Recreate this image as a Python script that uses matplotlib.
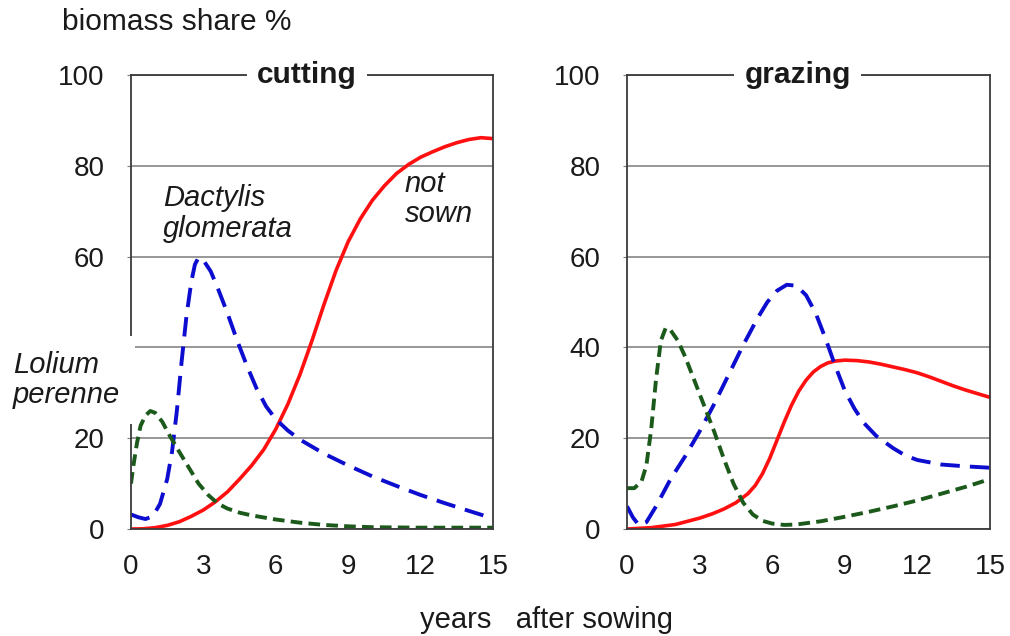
import matplotlib
matplotlib.use('Agg')
import matplotlib.pyplot as plt

plt.rcParams['font.family'] = ['Liberation Sans', 'DejaVu Sans']

# cutting panel
cut_red_x = [0, 0.5, 1, 1.5, 2, 2.5, 3, 3.5, 4, 4.5, 5, 5.5, 6, 6.5, 7, 7.5, 8, 8.5, 9, 9.5, 10, 10.5, 11, 11.5, 12, 12.5, 13, 13.5, 14, 14.5, 15]
cut_red_y = [0, 0.05, 0.3, 0.8, 1.6, 2.8, 4.2, 6, 8.2, 11, 14, 17.5, 22, 27.5, 34, 41.5, 49.5, 57, 63.3, 68.3, 72.4, 75.6, 78.3, 80.3, 81.9, 83.1, 84.2, 85.1, 85.8, 86.2, 86]
cut_blue_x = [0, 0.3, 0.6, 0.9, 1.2, 1.5, 1.7, 1.9, 2.1, 2.3, 2.5, 2.65, 2.8, 3.0, 3.3, 3.6, 4.0, 4.4, 4.8, 5.2, 5.6, 6.0, 6.5, 7.0, 8.0, 9.0, 10.0, 11.0, 12.0, 13.0, 14.0, 14.6]
cut_blue_y = [3.2, 2.6, 2.2, 2.8, 5.5, 11, 17, 26, 37, 47, 54.5, 58.3, 59.8, 59.2, 56.8, 53, 47.5, 41.5, 36, 31, 27, 24.2, 21.7, 19.7, 16.6, 14, 11.6, 9.5, 7.5, 5.7, 4, 3]
cut_green_x = [0, 0.1, 0.25, 0.4, 0.6, 0.8, 1.0, 1.3, 1.6, 2.0, 2.4, 2.8, 3.2, 3.6, 4.0, 4.5, 5, 6, 7, 8, 9, 10, 12, 15]
cut_green_y = [10, 14, 19, 22.8, 25, 26, 25.6, 23.6, 20.6, 17, 13.5, 10, 7.5, 5.6, 4.5, 3.6, 3, 2.1, 1.4, 0.9, 0.6, 0.4, 0.3, 0.3]

# grazing panel
gr_red_x = [0, 1, 2, 3, 3.5, 4, 4.5, 5, 5.3, 5.6, 5.9, 6.2, 6.5, 6.8, 7.1, 7.4, 7.7, 8, 8.3, 8.6, 9, 9.5, 10, 10.5, 11, 11.5, 12, 12.5, 13, 13.5, 14, 14.5, 15]
gr_red_y = [0, 0.3, 1, 2.4, 3.3, 4.4, 5.8, 7.8, 9.6, 12.2, 15.6, 19.6, 23.6, 27.3, 30.4, 32.8, 34.6, 35.8, 36.6, 37, 37.2, 37.1, 36.8, 36.3, 35.7, 35.1, 34.4, 33.5, 32.5, 31.5, 30.6, 29.8, 29]
gr_blue_x = [0, 0.25, 0.5, 0.8, 1.2, 1.8, 2.4, 3.0, 3.6, 4.2, 4.8, 5.4, 5.8, 6.2, 6.6, 7.0, 7.4, 7.8, 8.2, 8.6, 9.0, 9.4, 9.8, 10.3, 11, 11.5, 12, 13, 14, 15]
gr_blue_y = [5, 2.5, 0.8, 1.5, 5, 11, 16, 21.5, 27.5, 34, 40.5, 46.5, 50, 52.5, 53.8, 53.6, 51.5, 47.5, 42, 36, 30.5, 26.5, 23.3, 20.5, 17.8, 16.2, 15.2, 14.2, 13.8, 13.5]
gr_green_x = [0, 0.3, 0.6, 0.8, 1.0, 1.2, 1.4, 1.6, 1.8, 2.1, 2.4, 2.8, 3.2, 3.6, 4.0, 4.4, 4.8, 5.2, 5.6, 6.0, 6.5, 7, 8, 9, 10, 11, 12, 13, 14, 15]
gr_green_y = [9, 9, 10.5, 14, 22, 33, 41.5, 44.3, 43.8, 41.5, 38, 32.5, 27, 21.5, 15.5, 10, 5.8, 3.2, 1.8, 1.2, 0.9, 1, 1.7, 2.7, 3.8, 5, 6.3, 7.8, 9.3, 11]

xticks = [0, 3, 6, 9, 12, 15]
yticks = [0, 20, 40, 60, 80, 100]
ylabels_cut = ['0', '20', '', '60', '80', '100']  # 40 hidden behind the Lolium label
ylabels_gr = ['0', '20', '40', '60', '80', '100']

RED = '#ff1010'
BLUE = '#0d0dd0'
GREEN = '#1c5a1c'
TXT = '#1a1a1a'

fig = plt.figure(figsize=(10.1, 6.36), dpi=100)
ax1 = fig.add_axes([0.1297, 0.1682, 0.3584, 0.7138])
ax2 = fig.add_axes([0.6208, 0.1682, 0.3594, 0.7138])

panels = [
    (ax1, 'cutting', 0.486, ylabels_cut, cut_red_x, cut_red_y, cut_blue_x, cut_blue_y, cut_green_x, cut_green_y),
    (ax2, 'grazing', 0.47, ylabels_gr, gr_red_x, gr_red_y, gr_blue_x, gr_blue_y, gr_green_x, gr_green_y),
]

for ax, title, tx, ylab, rx, ry, bx, by, gx, gy in panels:
    ax.set_xlim(0, 15)
    ax.set_ylim(0, 100)
    ax.set_xticks(xticks)
    ax.set_yticks(yticks)
    ax.set_yticklabels(ylab)
    ax.grid(axis='y', color='#7a7a7a', linewidth=1.1)
    ax.set_axisbelow(True)
    for s in ax.spines.values():
        s.set_color('#3a3a3a')
        s.set_linewidth(1.3)
    ax.tick_params(axis='y', length=3, color='#7a7a7a', pad=16, labelsize=20, labelcolor=TXT)
    ax.tick_params(axis='x', length=0, pad=18, labelsize=20, labelcolor=TXT)
    ax.plot(rx, ry, color=RED, lw=2.6, solid_capstyle='round', solid_joinstyle='round')
    ax.plot(bx, by, color=BLUE, lw=2.8, dashes=(5, 2.6))
    ax.plot(gx, gy, color=GREEN, lw=2.8, dashes=(3, 1.6))
    ax.text(tx, 1.0, title, transform=ax.transAxes, ha='center', va='center',
            fontsize=21.5, fontweight='bold', color=TXT,
            bbox=dict(facecolor='white', edgecolor='none', boxstyle='square,pad=0.35'))

ax1.text(1.33, 69.5, 'Dactylis\nglomerata', style='italic', fontsize=21,
         ha='left', va='center', linespacing=1.1, color=TXT)
ax1.text(11.35, 72.7, 'not\nsown', style='italic', fontsize=21,
         ha='left', va='center', linespacing=1.1, color=TXT)

fig.text(13 / 1010, 1 - 380 / 636, 'Lolium\nperenne', style='italic', fontsize=21,
         ha='left', va='center', linespacing=1.1, color=TXT,
         bbox=dict(facecolor='white', edgecolor='none', boxstyle='square,pad=0.5'))

fig.text(62 / 1010, 1 - 22 / 636, 'biomass share %', fontsize=21.5, ha='left', va='center', color=TXT)
fig.text(546 / 1010, 1 - 620 / 636, 'years   after sowing', fontsize=21, ha='center', va='center', color=TXT)

fig.savefig('out.png', dpi=100, facecolor='white')
